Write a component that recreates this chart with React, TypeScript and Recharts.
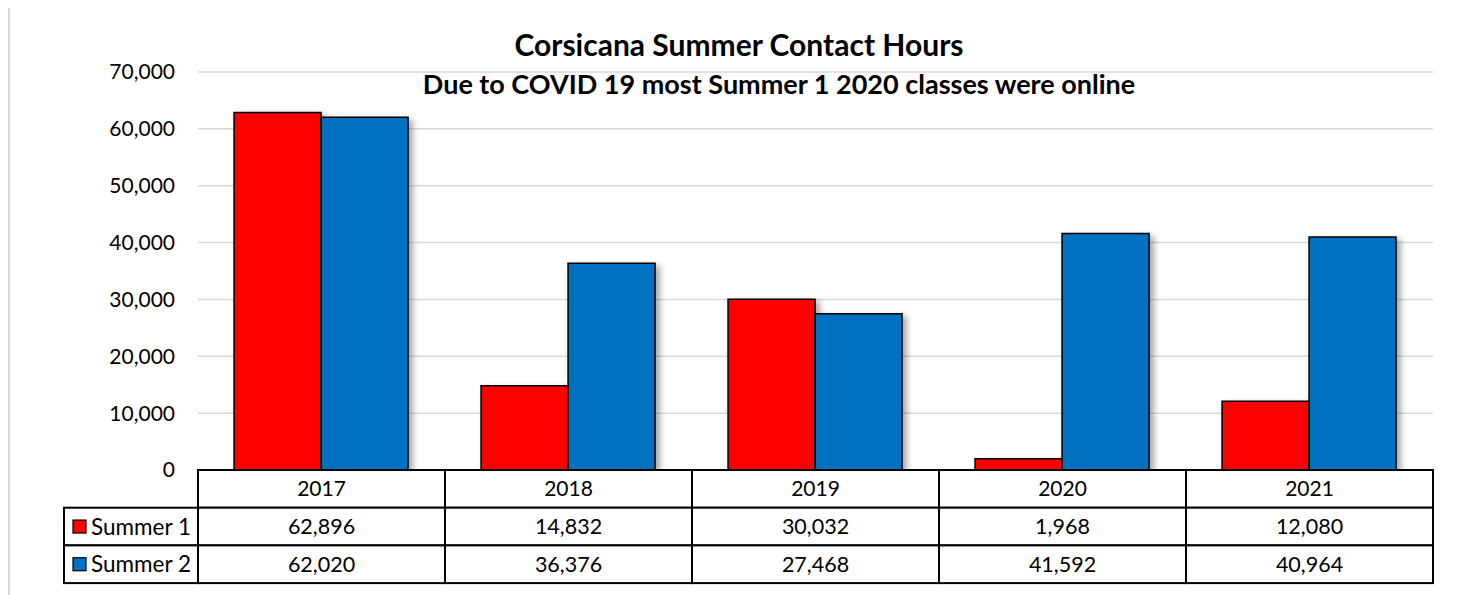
import React from 'react';
import { BarChart, Bar, XAxis, YAxis, CartesianGrid } from 'recharts';

const years = ['2017', '2018', '2019', '2020', '2021'];
const summer1 = [62896, 14832, 30032, 1968, 12080];
const summer2 = [62020, 36376, 27468, 41592, 40964];
const yTicks = [0, 10000, 20000, 30000, 40000, 50000, 60000, 70000];

const seriesInfo = [
  { key: 'summer1', name: 'Summer 1', color: '#ff0000', values: summer1 },
  { key: 'summer2', name: 'Summer 2', color: '#0070c0', values: summer2 },
];

const chartData = years.map((year, i) => ({
  year,
  summer1: summer1[i],
  summer2: summer2[i],
}));

const FONT = 'Lato, "Open Sans", sans-serif';
const CHART_W = 1472;
const CHART_H = 600;
const MARGIN = { top: 69, right: CHART_W - 1425, left: 120, bottom: 18 };
const PLOT_W = 1425 - 190;
const BAND = PLOT_W / years.length;
const ROW_H = 37.7;
const LEGEND_W = 134;

const fmt = (v: number) => v.toLocaleString('en-US');

// Data table drawn as the x axis tick: one column per category
const TableTick = ({ x, y, payload, index }: {
  x?: number;
  y?: number;
  payload?: { value: string };
  index?: number;
}) => {
  const cx = x ?? 0;
  const top = y ?? 0;
  const left = cx - BAND / 2;
  const stroke = { stroke: '#000', strokeWidth: 2, fill: '#fff' };
  return (
    <g>
      <rect x={left} y={top} width={BAND} height={ROW_H} {...stroke} />
      <text x={cx} y={top + ROW_H / 2 + 7.5} textAnchor="middle" fontSize={21} fill="#000" fontFamily={FONT}>
        {payload?.value}
      </text>
      {seriesInfo.map((s, r) => (
        <g key={s.key}>
          <rect x={left} y={top + ROW_H * (r + 1)} width={BAND} height={ROW_H} {...stroke} />
          <text
            x={cx}
            y={top + ROW_H * (r + 1) + ROW_H / 2 + 7.5}
            textAnchor="middle"
            fontSize={21.5}
            fill="#000"
            fontFamily={FONT}
          >
            {fmt(s.values[index ?? 0])}
          </text>
        </g>
      ))}
      {index === 0 &&
        seriesInfo.map((s, r) => (
          <g key={`leg-${s.key}`}>
            <rect x={left - LEGEND_W} y={top + ROW_H * (r + 1)} width={LEGEND_W} height={ROW_H} {...stroke} />
            <rect
              x={left - LEGEND_W + 9}
              y={top + ROW_H * (r + 1) + ROW_H / 2 - 6.5}
              width={13}
              height={13}
              fill={s.color}
              stroke="#000"
              strokeWidth={1.2}
            />
            <text
              x={left - LEGEND_W + 27}
              y={top + ROW_H * (r + 1) + ROW_H / 2 + 8}
              fontSize={22.5}
              fill="#000"
              fontFamily={FONT}
            >
              {s.name}
            </text>
          </g>
        ))}
    </g>
  );
};

const App: React.FC = () => {
  return (
    <div style={{ marginTop: -5, width: 1474, height: CHART_H, overflow: 'hidden' }}>
      <div style={{ position: 'relative', width: 1500, height: CHART_H, border: '2px solid #d9d9d9', boxSizing: 'border-box', background: '#fff' }}>
        <div
          style={{
            position: 'absolute',
            left: 0,
            width: CHART_W,
            top: 21,
            textAlign: 'center',
            fontFamily: FONT,
            fontWeight: 700,
            fontSize: 30,
            color: '#000',
          }}
        >
          <span style={{ position: 'relative', left: -7 }}>Corsicana Summer Contact Hours</span>
        </div>
        <div
          style={{
            position: 'absolute',
            left: 0,
            width: CHART_W,
            top: 62,
            textAlign: 'center',
            fontFamily: FONT,
            fontWeight: 700,
            fontSize: 27,
            color: '#000',
            whiteSpace: 'nowrap',
          }}
        >
          <span style={{ position: 'relative', left: 33 }}>Due to COVID 19 most Summer 1 2020 classes were online</span>
        </div>
        <div style={{ position: 'absolute', left: -2, top: -2 }}>
          <BarChart width={CHART_W} height={CHART_H} data={chartData} margin={MARGIN} barCategoryGap="14.6%" barGap={0}>
            <defs>
              <filter id="barShadow" x="-20%" y="-20%" width="150%" height="140%">
                <feDropShadow dx={4} dy={3} stdDeviation={3} floodColor="#000" floodOpacity={0.35} />
              </filter>
            </defs>
            <CartesianGrid vertical={false} stroke="#d9d9d9" strokeWidth={1.5} />
            <XAxis
              dataKey="year"
              height={115}
              axisLine={false}
              tickLine={false}
              tickSize={0}
              tickMargin={0}
              interval={0}
              tick={<TableTick />}
            />
            <YAxis
              width={70}
              domain={[0, 70000]}
              ticks={yTicks}
              tickFormatter={fmt}
              axisLine={false}
              tickLine={false}
              tickSize={0}
              tickMargin={23}
              tick={{ fill: '#000', fontSize: 21, fontFamily: FONT }}
            />
            {seriesInfo.map((s) => (
              <Bar
                key={s.key}
                dataKey={s.key}
                name={s.name}
                fill={s.color}
                stroke="#000"
                strokeWidth={1.5}
                filter="url(#barShadow)"
                isAnimationActive={false}
              />
            ))}
          </BarChart>
        </div>
      </div>
    </div>
  );
};

export default App;
